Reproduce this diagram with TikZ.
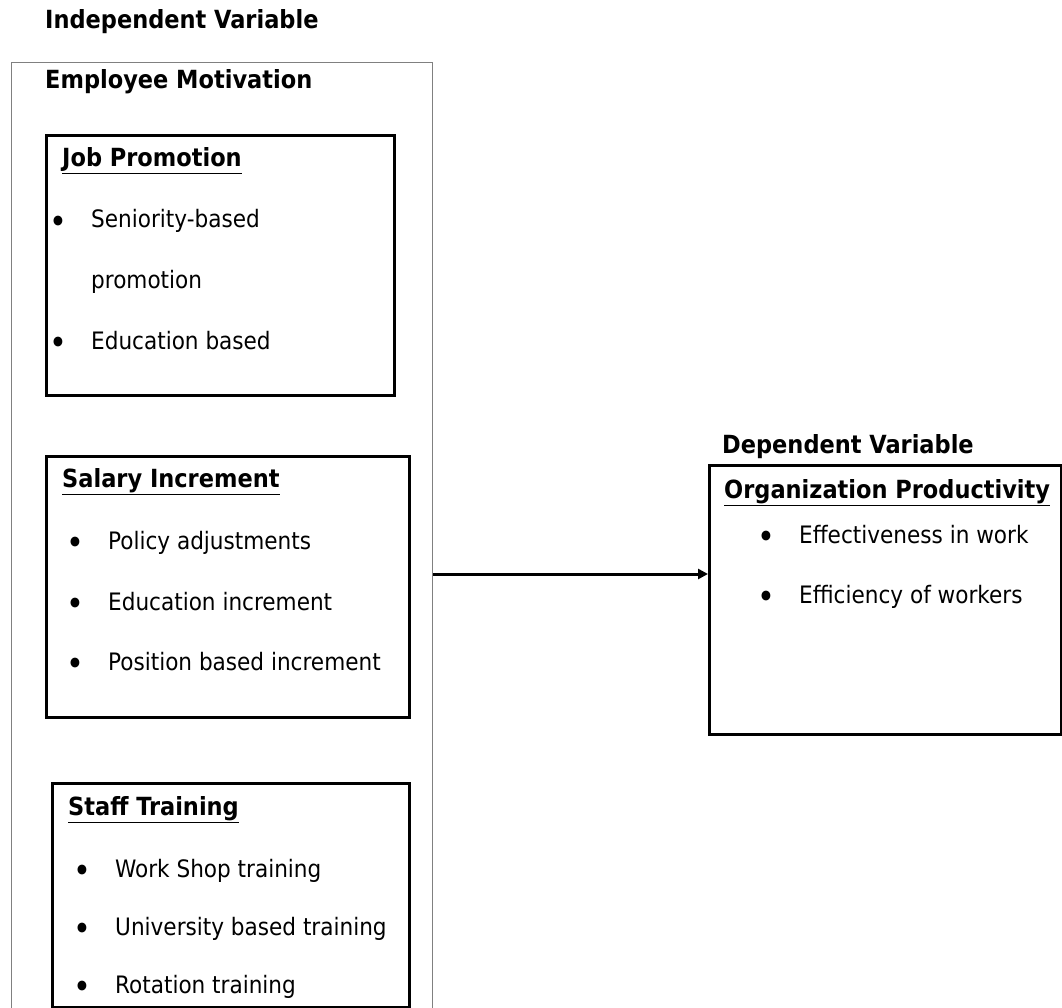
\documentclass[tikz,border=0pt]{standalone}
\usepackage{graphicx}
\usepackage{fontspec}
\setmainfont{DejaVu Sans Condensed}
\usetikzlibrary{arrows.meta}

\newcommand{\bul}{\makebox[42pt][l]{\raisebox{-5.5pt}{\scalebox{1.4}{•}}}}

\begin{document}
\begin{tikzpicture}[x=1pt, y=-1pt,
    txt/.style={anchor=base west, inner sep=0pt, font=\fontsize{24}{28}\selectfont},
    head/.style={txt, font=\fontsize{25}{29}\selectfont\bfseries},
    box/.style={draw, rectangle, line width=3pt, anchor=north west, inner sep=0pt}]
    \useasboundingbox (0,0) rectangle (1062,1008);

    % left side
    \node[head] (indep) at (45,29) {Independent Variable};
    \node[draw=gray, line width=1.2pt, anchor=north west, minimum width=421pt, minimum height=980pt] (motiv) at (11,62) {};
    \node[head] (motivtitle) at (45,89) {Employee Motivation};

    \node[box, minimum width=348pt, minimum height=260pt] (jobbox) at (45,134) {};
    \node[head] (job) at (62,167) {\underline{Job Promotion}};
    \node[txt] (job1) at (49,228) {\bul Seniority-based};
    \node[txt] (job2) at (91,288) {promotion};
    \node[txt] (job3) at (49,349) {\bul Education based};

    \node[box, minimum width=363pt, minimum height=261pt] (salbox) at (45,455) {};
    \node[head] (sal) at (62,487) {\underline{Salary Increment}};
    \node[txt] (sal1) at (66,549) {\bul Policy adjustments};
    \node[txt] (sal2) at (66,610) {\bul Education increment};
    \node[txt] (sal3) at (66,670) {\bul Position based increment};

    \node[box, minimum width=357pt, minimum height=224pt] (staffbox) at (51,782) {};
    \node[head] (staff) at (68,815) {\underline{Staff Training}};
    \node[txt] (staff1) at (73,877) {\bul Work Shop training};
    \node[txt] (staff2) at (73,935) {\bul University based training};
    \node[txt] (staff3) at (73,993) {\bul Rotation training};

    % right side
    \node[head] (dep) at (722,453) {Dependent Variable};
    \node[draw, rectangle, line width=2.5pt, anchor=north west, minimum width=352pt, minimum height=269pt] (prod) at (708,464) {};
    \node[head] (prodtitle) at (724,498) {\underline{Organization Productivity}};
    \node[txt] (prod1) at (757,543) {\bul Effectiveness in work};
    \node[txt] (prod2) at (757,603) {\bul Efficiency of workers};

    \coordinate (arrowy) at (0,574);
    \draw[line width=3pt, -{Triangle[length=10pt, width=10pt]}] (motiv.east |- arrowy) -- (prod.west |- arrowy);
\end{tikzpicture}
\end{document}
